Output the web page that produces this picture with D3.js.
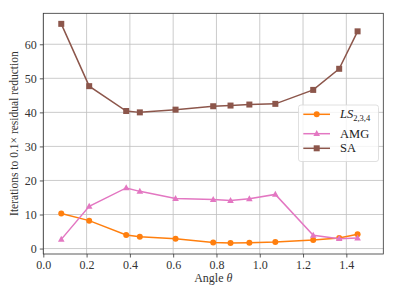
<!DOCTYPE html>
<html>
<head>
<meta charset="utf-8">
<script src="https://cdn.jsdelivr.net/npm/d3@7"></script>
<style>
  body { margin: 0; background: #fff; }
  text { font-family: "Liberation Serif", "DejaVu Serif", serif; }
</style>
</head>
<body>
<div id="chart"></div>
<script>
// --- data ---
const angles = [0.083, 0.212, 0.383, 0.446, 0.611, 0.785, 0.865, 0.952, 1.072, 1.247, 1.367, 1.452];
const lsIters  = [10.3, 8.2, 4.0, 3.5, 2.9, 1.8, 1.6, 1.7, 1.9, 2.5, 3.1, 4.2];
const amgIters = [2.7, 12.4, 17.8, 16.8, 14.7, 14.4, 14.1, 14.6, 15.9, 3.9, 2.9, 3.1];
const saIters  = [66, 47.7, 40.4, 40.0, 40.8, 41.8, 42.0, 42.3, 42.5, 46.6, 52.8, 63.8];
const xTicks = [0.0, 0.2, 0.4, 0.6, 0.8, 1.0, 1.2, 1.4];
const yTicks = [0, 10, 20, 30, 40, 50, 60];

const series = [
  { name: 'LS', vals: lsIters,  color: '#ff7f0e', marker: 'circle' },
  { name: 'AMG', vals: amgIters, color: '#e377c2', marker: 'triangle' },
  { name: 'SA', vals: saIters,  color: '#8c564b', marker: 'square' }
];

const W = 397, H = 297;
const m = { left: 43.3, right: 397 - 383.3, top: 13.3, bottom: 297 - 254 };

const svg = d3.select('#chart').append('svg')
  .attr('width', W).attr('height', H);

const x = d3.scaleLinear().domain([0, Math.PI / 2]).range([m.left, W - m.right]);
const y = d3.scaleLinear().domain([-1.6, 69.1]).range([H - m.bottom, m.top]);

// grid
const grid = svg.append('g').attr('stroke', '#b0b0b0').attr('stroke-width', 0.8).attr('opacity', 0.8);
xTicks.forEach(t => grid.append('line').attr('x1', x(t)).attr('x2', x(t)).attr('y1', m.top).attr('y2', H - m.bottom));
yTicks.forEach(t => grid.append('line').attr('x1', m.left).attr('x2', W - m.right).attr('y1', y(t)).attr('y2', y(t)));

// axes
const xAxis = svg.append('g').attr('transform', `translate(0,${H - m.bottom})`)
  .call(d3.axisBottom(x).tickValues(xTicks).tickFormat(d3.format('.1f')).tickSizeInner(3.5).tickSizeOuter(0).tickPadding(3));
const yAxis = svg.append('g').attr('transform', `translate(${m.left},0)`)
  .call(d3.axisLeft(y).tickValues(yTicks).tickSizeInner(3.5).tickSizeOuter(0).tickPadding(3));
[xAxis, yAxis].forEach(a => {
  a.selectAll('text').attr('font-size', 12).attr('fill', '#333')
    .style('font-family', '"Liberation Serif", serif');
  a.selectAll('line').attr('stroke', '#333').attr('stroke-width', 0.8);
  a.select('.domain').remove();
});

// frame
svg.append('rect').attr('x', m.left).attr('y', m.top)
  .attr('width', W - m.right - m.left).attr('height', H - m.bottom - m.top)
  .attr('fill', 'none').attr('stroke', '#333').attr('stroke-width', 0.8);

// markers
function drawMarker(g, type, cx, cy, color, s) {
  if (type === 'circle') {
    g.append('circle').attr('cx', cx).attr('cy', cy).attr('r', s).attr('fill', color);
  } else if (type === 'square') {
    g.append('rect').attr('x', cx - s).attr('y', cy - s).attr('width', 2 * s).attr('height', 2 * s).attr('fill', color);
  } else {
    g.append('path').attr('d', `M${cx},${cy - s * 1.2}L${cx + s * 1.1},${cy + s * 0.8}L${cx - s * 1.1},${cy + s * 0.8}Z`).attr('fill', color);
  }
}

const line = d3.line().x(d => x(d[0])).y(d => y(d[1]));
series.forEach(s => {
  const pts = angles.map((a, i) => [a, s.vals[i]]);
  svg.append('path').datum(pts).attr('d', line)
    .attr('fill', 'none').attr('stroke', s.color).attr('stroke-width', 1.5);
  const g = svg.append('g');
  pts.forEach(p => drawMarker(g, s.marker, x(p[0]), y(p[1]), s.color, 3));
});

// legend
const lg = svg.append('g');
lg.append('rect').attr('x', 298.5).attr('y', 105).attr('width', 80).attr('height', 56.5)
  .attr('rx', 2.5).attr('fill', 'rgba(255,255,255,0.8)').attr('stroke', '#d8d8d8').attr('stroke-width', 0.8);
const legY = [114.3, 133.7, 148.3];
series.forEach((s, i) => {
  lg.append('line').attr('x1', 303.3).attr('x2', 330).attr('y1', legY[i]).attr('y2', legY[i])
    .attr('stroke', s.color).attr('stroke-width', 1.5);
  drawMarker(lg, s.marker, 316.7, legY[i], s.color, 3);
});
const ls = lg.append('text').attr('x', 340).attr('y', legY[0] + 4).attr('font-size', 12.5).attr('fill', '#222');
ls.append('tspan').attr('font-style', 'italic').text('LS');
ls.append('tspan').attr('font-size', 8.5).attr('dy', 3).text('2,3,4');
lg.append('text').attr('x', 340).attr('y', legY[1] + 4).attr('font-size', 12.5).attr('fill', '#222').text('AMG');
lg.append('text').attr('x', 340).attr('y', legY[2] + 4).attr('font-size', 12.5).attr('fill', '#222').text('SA');

// labels
const xl = svg.append('text').attr('x', (m.left + W - m.right) / 2).attr('y', 282)
  .attr('text-anchor', 'middle').attr('font-size', 12).attr('fill', '#333');
xl.append('tspan').text('Angle ');
xl.append('tspan').attr('font-style', 'italic').text('θ');

svg.append('text').attr('transform', `translate(18,${(m.top + H - m.bottom) / 2}) rotate(-90)`)
  .attr('text-anchor', 'middle').attr('font-size', 11.5).attr('fill', '#333')
  .text('Iterations to 0.1× residual reduction');
</script>
</body>
</html>
